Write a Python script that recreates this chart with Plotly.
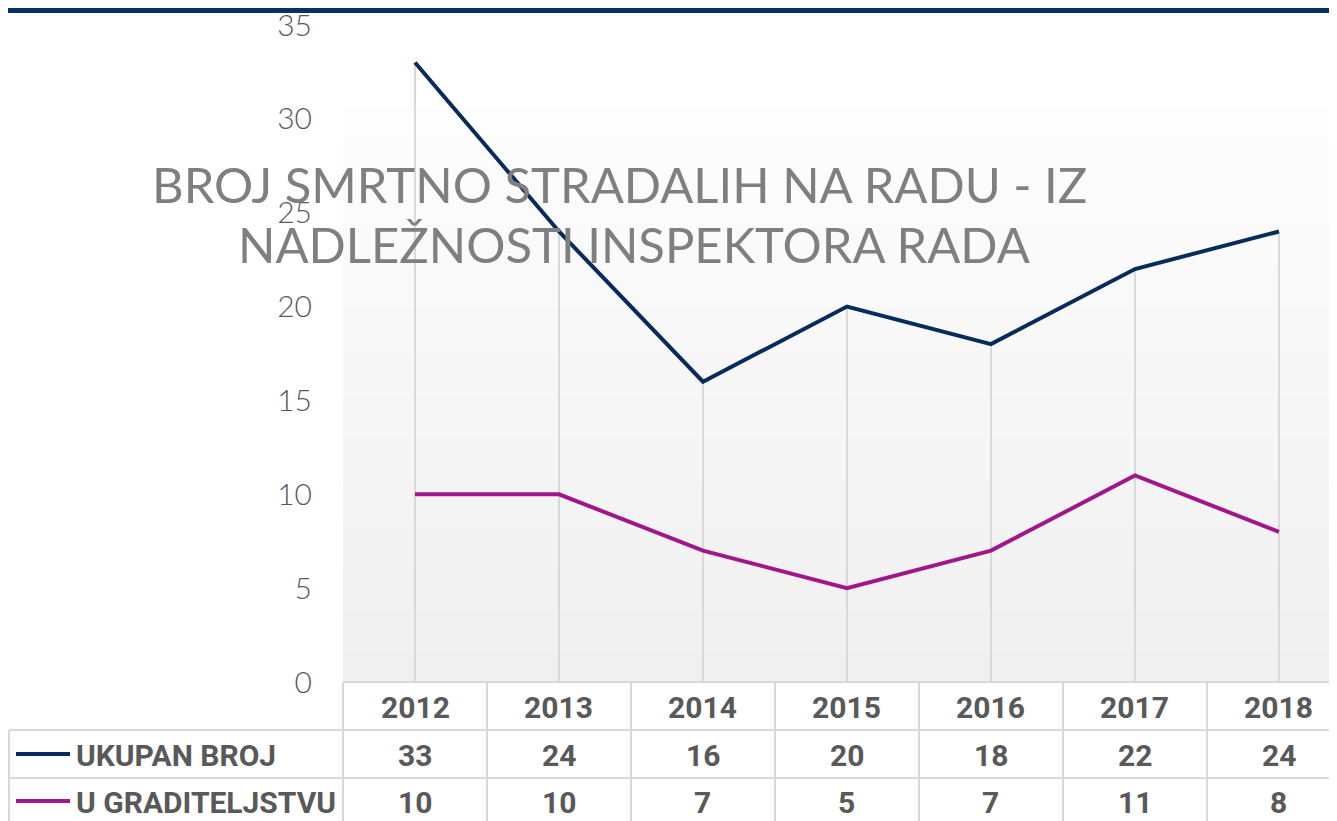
import plotly.graph_objects as go

years = ["2012", "2013", "2014", "2015", "2016", "2017", "2018"]
ukupan = [33, 24, 16, 20, 18, 22, 24]
gradit = [10, 10, 7, 5, 7, 11, 8]
series_names = ["UKUPAN BROJ", "U GRADITELJSTVU"]
title_lines = ["BROJ SMRTNO STRADALIH NA RADU - IZ", "NADLEŽNOSTI INSPEKTORA RADA"]
y_ticks = [0, 5, 10, 15, 20, 25, 30, 35]

NAVY = "#072c5c"
MAG = "#a1168b"
GRID = "#d9d9d9"
TXT = "#595959"

OFF = 8  # page body margin
W, H = 1337 - OFF, 821 - OFF
L_WIN, T_WIN, B_WIN = 343, 25, 682
L = L_WIN - OFF
T = T_WIN - OFF
B = H - (B_WIN - OFF)
PH = H - T - B
PW = W - L


def py(wy):
    """window pixel y -> paper y"""
    return (B_WIN - wy) / PH


def pxp(wx):
    """window pixel x -> paper x"""
    return (wx - L_WIN) / PW


fig = go.Figure()

# drop lines from highest series to the axis
dx, dy = [], []
for c, a, b in zip(years, ukupan, gradit):
    dx += [c, c, None]
    dy += [0, max(a, b), None]
fig.add_trace(go.Scatter(x=dx, y=dy, mode="lines", line=dict(color=GRID, width=2),
                         hoverinfo="skip", showlegend=False))

fig.add_trace(go.Scatter(x=years, y=ukupan, mode="lines", name=series_names[0],
                         line=dict(color=NAVY, width=4), showlegend=False))
fig.add_trace(go.Scatter(x=years, y=gradit, mode="lines", name=series_names[1],
                         line=dict(color=MAG, width=4), showlegend=False))

shapes = []
# gradient background
n = 40
top_px, bot_px = 110, 682
for i in range(n):
    y0 = top_px + (bot_px - top_px) * i / n
    y1 = top_px + (bot_px - top_px) * (i + 1) / n
    t = (i + 0.5) / n
    v = round(253 - (253 - 240) * t)
    shapes.append(dict(type="rect", xref="paper", yref="paper", x0=0, x1=1,
                       y0=py(y1), y1=py(y0) + 0.001, fillcolor=f"rgb({v},{v},{v})",
                       line=dict(width=0), layer="below"))

# top bar
shapes.append(dict(type="rect", xref="paper", yref="paper", x0=pxp(0), x1=1,
                   y0=py(OFF + 5), y1=py(OFF) + 0.01, fillcolor="#06325f", line=dict(width=0)))

# table lines
lc = dict(color=GRID, width=2)
shapes.append(dict(type="line", xref="paper", yref="paper", x0=0, x1=1, y0=py(682), y1=py(682), line=lc))
for ypx in (730, 778):
    shapes.append(dict(type="line", xref="paper", yref="paper", x0=pxp(9), x1=1, y0=py(ypx), y1=py(ypx), line=lc))
shapes.append(dict(type="line", xref="paper", yref="paper", x0=0, x1=0, y0=py(682), y1=py(830), line=lc))
shapes.append(dict(type="line", xref="paper", yref="paper", x0=pxp(9), x1=pxp(9), y0=py(730), y1=py(830), line=lc))
for i in range(len(years)):
    shapes.append(dict(type="line", xref="x", yref="paper", x0=i + 0.5, x1=i + 0.5,
                       y0=py(682), y1=py(830), line=lc))

# legend keys
for ypx, col in ((754, NAVY), (801, MAG)):
    shapes.append(dict(type="line", xref="paper", yref="paper", x0=pxp(16), x1=pxp(70),
                       y0=py(ypx), y1=py(ypx), line=dict(color=col, width=4)))

ann = []
tf = dict(family="Roboto", size=30, color=TXT, weight="bold")


def cell(i, ypx, text):
    return dict(x=i, y=py(ypx), xref="x", yref="paper", text=text, showarrow=False,
                xanchor="center", yanchor="middle", font=tf)


for i, c in enumerate(years):
    ann.append(cell(i, 707, c))
for i, v in enumerate(ukupan):
    ann.append(cell(i, 755, str(v)))
for i, v in enumerate(gradit):
    ann.append(cell(i, 802, str(v)))
for name, ypx in zip(series_names, (755, 802)):
    ann.append(dict(x=pxp(74), y=py(ypx), xref="paper", yref="paper", text=name, showarrow=False,
                    xanchor="left", yanchor="middle", font=tf))

# title
ttf = dict(family="Lato", size=49, color="#7f7f7f")
ann.append(dict(x=pxp(619), y=py(184), xref="paper", yref="paper", text=title_lines[0],
                showarrow=False, xanchor="center", yanchor="middle", font=ttf))
ann.append(dict(x=pxp(634), y=py(244), xref="paper", yref="paper", text=title_lines[1],
                showarrow=False, xanchor="center", yanchor="middle", font=ttf))

fig.update_layout(
    width=W, height=H,
    margin=dict(l=L, r=0, t=T, b=B),
    paper_bgcolor="white", plot_bgcolor="rgba(0,0,0,0)",
    shapes=shapes, annotations=ann, showlegend=False,
    xaxis=dict(type="category", range=[-0.5, 6.403], showgrid=False, showticklabels=False,
               zeroline=False, showline=False, ticks="", automargin=False),
    yaxis=dict(range=[0, 35], tickvals=y_ticks, showgrid=False, zeroline=False, showline=False,
               ticks="", ticklabelstandoff=30, ticklabeloverflow="allow", automargin=False,
               tickfont=dict(family="Lato", size=30, color=TXT, weight=300)),
)

fig.write_html("out.html")
